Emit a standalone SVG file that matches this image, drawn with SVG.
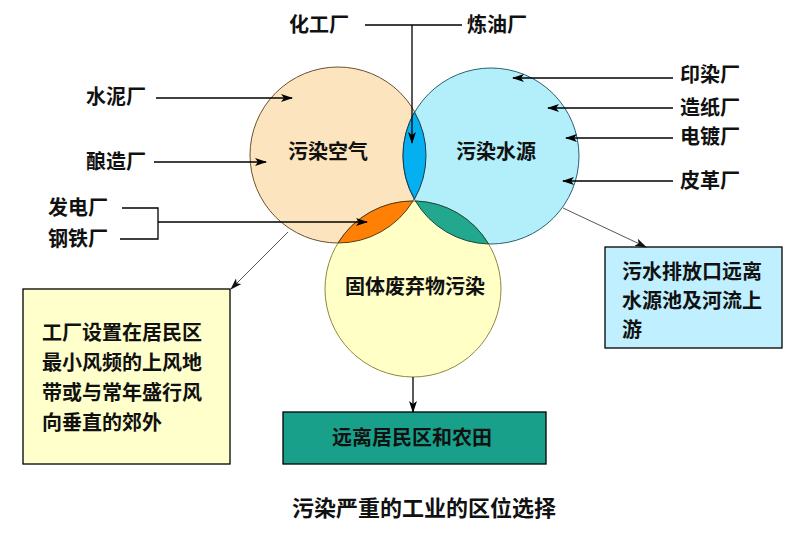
<svg xmlns="http://www.w3.org/2000/svg" width="800" height="538" viewBox="0 0 800 538">
<defs>
<marker id="ah" viewBox="0 0 12 8" refX="11" refY="4" markerWidth="12" markerHeight="8" markerUnits="userSpaceOnUse" orient="auto">
<path d="M0,0 L12,4 L0,8 L3,4 Z" fill="#000"/>
</marker>
<marker id="ahg" viewBox="0 0 12 8" refX="11" refY="4" markerWidth="12" markerHeight="8" markerUnits="userSpaceOnUse" orient="auto">
<path d="M0,0 L12,4 L0,8 L3,4 Z" fill="#111"/>
</marker>
<style>
text{font-family:"Noto Sans CJK SC","Noto Sans CJK TC",sans-serif;font-weight:bold;font-size:20px;fill:#111;}
.c{text-anchor:middle;}
.ln{stroke:#000;stroke-width:1.3;fill:none;}
.gl{stroke:#555;stroke-width:1;fill:none;}
.circ{stroke-width:1;}
</style>
</defs>
<rect width="800" height="538" fill="#fff"/>

<g id="air">
<circle class="circ" cx="338" cy="155" r="88" fill="#FCE5BE" stroke="#6b5030"/>
<text class="c" x="328" y="159">污染空气</text>
</g>
<g id="water">
<circle class="circ" cx="491" cy="156" r="88" fill="#B2EFFB" stroke="#2a6070"/>
</g>
<g id="solid">
<circle class="circ" cx="413" cy="289" r="88" fill="#FFFFC6" stroke="#8a8a40"/>
<text class="c" x="415" y="294">固体废弃物污染</text>
</g>
<g id="lens-air-water">
<path d="M414.5,112 A88,88 0 0 0 414.5,199 A88,88 0 0 0 414.5,112 Z" fill="#04B0F0" stroke="#1a3a4a" stroke-width="1"/>
</g>
<g id="lens-air-solid">
<path d="M338,243 A88,88 0 0 1 413,201 A88,88 0 0 1 338,243 Z" fill="#FF8004" stroke="#5a3a10" stroke-width="1"/>
</g>
<g id="lens-water-solid">
<path d="M415.4,201 A88,88 0 0 1 488.6,244 A88,88 0 0 1 415.4,201 Z" fill="#22A88E" stroke="#1a4a40" stroke-width="1"/>
</g>
<g id="water-label">
<text class="c" x="496" y="159">污染水源</text>
</g>

<g id="labels">
<text x="289" y="32">化工厂</text>
<text x="467" y="32">炼油厂</text>
<text x="86" y="104">水泥厂</text>
<text x="86" y="169">酿造厂</text>
<text x="48" y="215">发电厂</text>
<text x="48" y="246">钢铁厂</text>
<text x="680" y="82">印染厂</text>
<text x="680" y="115">造纸厂</text>
<text x="680" y="144">电镀厂</text>
<text x="680" y="188">皮革厂</text>
</g>

<g id="box-air">
<rect x="23" y="289" width="207" height="175" fill="#FFFFCC" stroke="#000" stroke-width="1.3"/>
<text x="42" y="340">工厂设置在居民区</text>
<text x="42" y="370">最小风频的上风地</text>
<text x="42" y="400">带或与常年盛行风</text>
<text x="42" y="430">向垂直的郊外</text>
</g>
<g id="box-water">
<rect x="605" y="247" width="177" height="101" fill="#C0F0FF" stroke="#000" stroke-width="1.3"/>
<text x="622" y="279">污水排放口远离</text>
<text x="622" y="308">水源池及河流上</text>
<text x="622" y="337">游</text>
</g>
<g id="box-solid">
<rect x="283" y="412" width="263" height="52" fill="#19A08B" stroke="#000" stroke-width="1.3"/>
<text class="c" x="412" y="445">远离居民区和农田</text>
</g>
<g id="title">
<text class="c" x="424" y="516" style="font-size:22px">污染严重的工业的区位选择</text>
</g>

<g id="connectors">
<path class="ln" d="M365,25 H462"/>
<path class="ln" d="M412,25 V143" marker-end="url(#ah)"/>
<path class="ln" d="M156,98 H292" marker-end="url(#ah)"/>
<path class="ln" d="M154,162 H266" marker-end="url(#ah)"/>
<path class="ln" d="M122,208 H158 V239 H120"/>
<path class="ln" d="M158,222 H367" marker-end="url(#ah)"/>
<path class="ln" d="M673,78 H513" marker-end="url(#ah)"/>
<path class="ln" d="M673,108 H548" marker-end="url(#ah)"/>
<path class="ln" d="M673,138 H566" marker-end="url(#ah)"/>
<path class="ln" d="M673,181 H563" marker-end="url(#ah)"/>
<path class="gl" d="M288,232 L231,289" marker-end="url(#ahg)"/>
<path class="gl" d="M563,208 L646,247" marker-end="url(#ahg)"/>
<path class="ln" d="M413,377 V412" marker-end="url(#ah)"/>
</g>
</svg>
